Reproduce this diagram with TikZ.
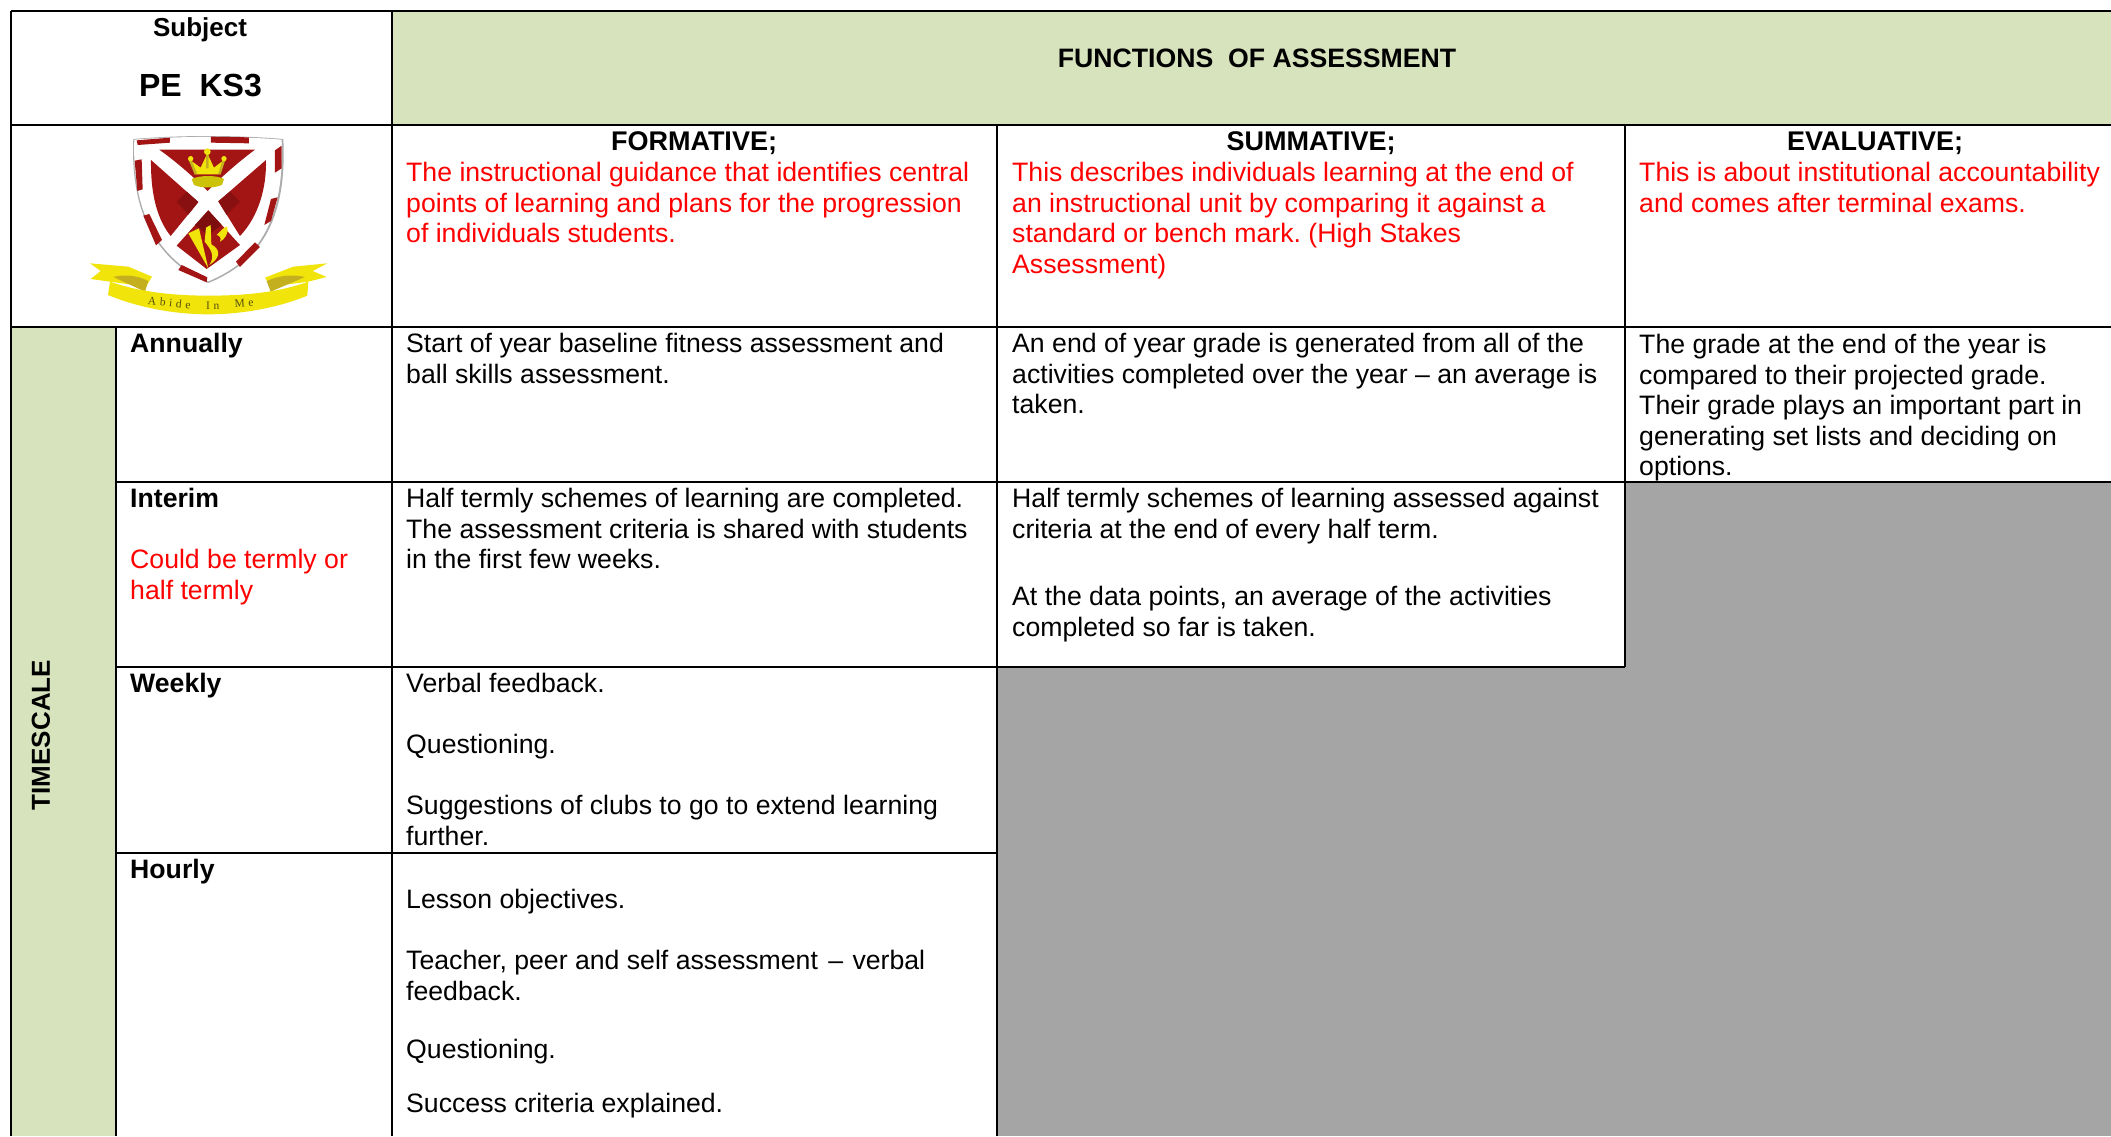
\documentclass[tikz,border=0pt]{standalone}
\usepackage{fontspec}
\setmainfont{Liberation Sans}
\newfontfamily\mottofont[LetterSpace=32]{Liberation Serif}
\definecolor{sage}{HTML}{D7E3BC}
\definecolor{greyfill}{HTML}{A5A5A5}
\definecolor{crestred}{HTML}{A31515}
\definecolor{crestdark}{HTML}{7E0E0E}
\definecolor{crestyellow}{HTML}{F0E40A}
\definecolor{crestolive}{HTML}{C4B01E}
\newcommand{\bodysize}{\frenchspacing\fontsize{26.65}{30.6}\selectfont}
\newcommand{\headsize}{\fontsize{27}{30.6}\selectfont}
\tikzset{
 rule/.style={line width=2.4pt,black},
 cell/.style={anchor=north west,align=left,inner sep=0pt,font=\bodysize,text=black},
 redcell/.style={cell,text=red},
 label/.style={cell,font=\bodysize\bfseries},
 head/.style={anchor=base,inner sep=0pt,font=\headsize\bfseries},
 motto/.style={inner sep=0pt,text=black!55!crestolive,font=\fontsize{11.5}{12}\selectfont\mottofont},
}
\begin{document}
\begin{tikzpicture}[x=1pt,y=-1pt]
\useasboundingbox (0,0) rectangle (2111,1136);
\fill[white] (0,0) rectangle (2111,1136);
% fills
\fill[sage] (392,11) rectangle (2111,125);
\fill[sage] (11,327) rectangle (116,1136);
\fill[greyfill] (1625,482) rectangle (2111,1136);
\fill[greyfill] (997,667) rectangle (1625,1136);
% grid anchors
\coordinate (tl) at (11,11); \coordinate (tr) at (2111,11);
\coordinate (al) at (11,125); \coordinate (ar) at (2111,125);
\coordinate (bl) at (11,327); \coordinate (br) at (2111,327);
\coordinate (cl) at (116,482); \coordinate (cr) at (2111,482);
\coordinate (dl) at (116,667); \coordinate (dr) at (1625,667);
\coordinate (el) at (116,853); \coordinate (er) at (997,853);
\coordinate (v0b) at (11,1136); \coordinate (v1t) at (116,327); \coordinate (v1b) at (116,1136);
\coordinate (v2t) at (392,11); \coordinate (v2b) at (392,1136);
\coordinate (v3t) at (997,125); \coordinate (v3b) at (997,1136);
\coordinate (v4t) at (1625,125); \coordinate (v4b) at (1625,667);
\draw[rule] (tl)--(tr) (al)--(ar) (bl)--(br) (cl)--(cr) (dl)--(dr) (el)--(er);
\draw[rule] (tl)--(v0b) (v1t)--(v1b) (v2t)--(v2b) (v3t)--(v3b) (v4t)--(v4b);
% header
\node[anchor=north,inner sep=0pt,font=\fontsize{26}{30}\selectfont\bfseries] (subject) at (200,17) {Subject};
\node[anchor=north,inner sep=0pt,font=\fontsize{32}{36}\selectfont\bfseries] (pe) at (200.5,74) {PE\ \ KS3};
\node[anchor=north,inner sep=0pt,font=\fontsize{26.65}{30}\selectfont\bfseries] (functions) at (1257,49) {FUNCTIONS\ \ OF ASSESSMENT};
\node[head] (formative) at (694,150.5) {FORMATIVE;};
\node[head] (summative) at (1311,150.5) {SUMMATIVE;};
\node[head] (evaluative) at (1875,150.5) {EVALUATIVE;};
\node[redcell] (fdesc) at (406,162) {The instructional guidance that identifies central\\points of learning and plans for the progression\\of individuals students.};
\node[redcell] (sdesc) at (1012,162) {This describes individuals learning at the end of\\an instructional unit by comparing it against a\\standard or bench mark. (High Stakes\\Assessment)};
\node[redcell] (edesc) at (1639,162) {This is about institutional accountability\\and comes after terminal exams.};
% labels
\node[label] (annually) at (130,333) {Annually};
\node[label] (interim) at (130,488) {Interim};
\node[redcell] (interimnote) at (130,549) {Could be termly or\\half termly};
\node[label] (weekly) at (130,673) {Weekly};
\node[label] (hourly) at (130,859) {Hourly};
\node[inner sep=0pt,rotate=90,font=\fontsize{26}{30}\selectfont\bfseries] (timescale) at (41,735) {TIMESCALE};
% body
\node[cell] (a1) at (406,333) {Start of year baseline fitness assessment and\\ball skills assessment.};
\node[cell] (a2) at (1012,333) {An end of year grade is generated from all of the\\activities completed over the year – an average is\\taken.};
\node[cell] (a3) at (1639,334) {The grade at the end of the year is\\compared to their projected grade.\\Their grade plays an important part in\\generating set lists and deciding on\\options.};
\node[cell] (i1) at (406,488) {Half termly schemes of learning are completed.\\The assessment criteria is shared with students\\in the first few weeks.};
\node[cell] (i2) at (1012,488) {Half termly schemes of learning assessed against\\criteria at the end of every half term.};
\node[cell] (i3) at (1012,586) {At the data points, an average of the activities\\completed so far is taken.};
\node[cell] (w1) at (406,673) {Verbal feedback.};
\node[cell] (w2) at (406,734) {Questioning.};
\node[cell] (w3) at (406,795) {Suggestions of clubs to go to extend learning\\further.};
\node[cell] (h1) at (406,889) {Lesson objectives.};
\node[cell] (h2) at (406,950) {Teacher, peer and self assessment\hspace{3pt} – \hspace{2pt}verbal\\feedback.};
\node[cell] (h3) at (406,1039) {Questioning.};
\node[cell] (h4) at (406,1093) {Success criteria explained.};
% crest, drawn in the coordinates of a 3x crop of its corner
\begin{scope}[shift={(80,125)},x=0.3333pt,y=-0.3333pt]
 % shield
 \fill[gray!65] (160,42) .. controls (300,30) and (470,30) .. (610,42) .. controls (620,240) and (570,400) .. (385,474) .. controls (235,410) and (150,270) .. (160,42) -- cycle;
 \fill[white] (163,44) .. controls (300,33) and (470,33) .. (605,44) .. controls (612,240) and (565,395) .. (385,469) .. controls (240,405) and (155,270) .. (163,44) -- cycle;
 % border blocks
 \fill[crestred] (170,46)--(270,38)--(270,53)--(173,60)--cycle;
 \fill[crestred] (393,35)--(507,37)--(507,55)--(393,53)--cycle;
 \fill[crestred] (585,76)--(605,62)--(605,130)--(585,143)--cycle;
 \fill[crestred] (164,107)--(185,103)--(188,193)--(172,198)--cycle;
 \fill[crestred] (573,222)--(593,217)--(573,288)--(553,300)--cycle;
 \fill[crestred] (190,272)--(208,267)--(246,345)--(228,361)--cycle;
 \fill[crestred] (468,410)--(525,352)--(540,366)--(480,426)--cycle;
 \fill[crestred] (305,420)--(382,457)--(380,472)--(295,435)--cycle;
 % quarters
 \fill[crestred] (238,74)--(525,74) .. controls (470,115) and (420,160) .. (383,198) .. controls (345,160) and (295,115) .. (238,74) -- cycle;
 \fill[crestred] (213,105)--(355,231)--(272,333) .. controls (225,275) and (212,190) .. (213,105) -- cycle;
 \fill[crestred] (558,105)--(415,229)--(480,333) .. controls (535,275) and (560,190) .. (558,105) -- cycle;
 \fill[crestred] (385,256)--(480,360)--(380,432)--(290,362)--cycle;
 \fill[crestdark] (385,256)--(425,300)--(385,330)--(345,300)--cycle;
 \fill[crestdark!70!crestred] (355,231)--(325,269)--(290,230)--(320,200)--cycle;
 \fill[crestdark!70!crestred] (415,229)--(440,270)--(480,230)--(450,200)--cycle;
 % crown
 \fill[crestyellow] (348,148)--(330,105)--(362,128)--(382,85)--(402,128)--(432,105)--(418,148)--cycle;
 \fill[crestyellow!85!black] (335,162) .. controls (360,150) and (410,150) .. (432,162) -- (426,180) .. controls (400,190) and (365,190) .. (342,180) -- cycle;
 \draw[crestolive,line width=2.5pt] (348,148)--(330,105) (418,148)--(432,105) (382,85)--(382,130);
 \fill[crestyellow] (332,101) circle (8) (382,80) circle (10) (432,101) circle (8);
 % monogram
 \fill[crestyellow] (325,325)--(357,310)--(385,430)--(365,395)--cycle;
 \fill[crestyellow] (378,308)--(392,300)--(394,358) .. controls (425,375) and (420,400) .. (388,420) .. controls (405,395) and (395,375) .. (374,350) -- cycle;
 \fill[crestyellow] (410,330) .. controls (420,320) and (432,305) .. (442,305) .. controls (448,325) and (432,345) .. (420,350) .. controls (425,340) and (420,332) .. (410,330) -- cycle;
 % ribbon tails
 \fill[crestyellow] (30,415)--(145,425)--(216,455)--(198,485)--(90,470)--(32,462)--(62,438)--cycle;
 \fill[crestyellow] (742,415)--(640,425)--(555,458)--(572,485)--(685,470)--(740,456)--(698,438)--cycle;
 \fill[crestolive] (100,456) .. controls (130,448) and (170,450) .. (205,468) -- (195,500) -- cycle;
 \fill[crestolive] (675,456) .. controls (640,448) and (600,450) .. (560,468) -- (572,500) -- cycle;
 % ribbon band
 \fill[crestyellow] (90,470) .. controls (190,505) and (300,512) .. (385,512) .. controls (480,512) and (590,505) .. (685,470) -- (682,512) .. controls (590,550) and (480,568) .. (385,568) .. controls (290,568) and (180,550) .. (84,510) -- cycle;
 \node[motto,rotate=-6] (mottoa) at (268,533) {Abide};
 \node[motto] (mottob) at (398,543) {In};
 \node[motto,rotate=4] (mottoc) at (492,535) {Me};
\end{scope}
\end{tikzpicture}
\end{document}
